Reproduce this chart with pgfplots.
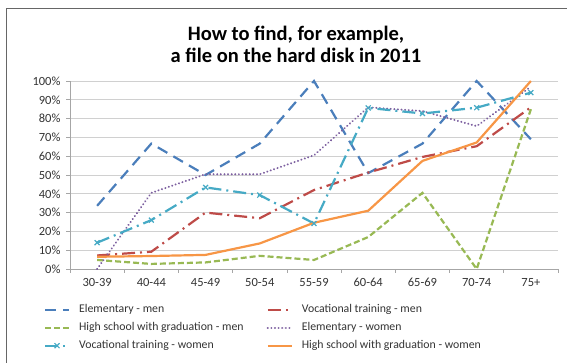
\documentclass[border=0pt]{standalone}
\usepackage{fontspec}
\setmainfont{Carlito}
\usepackage{pgfplots}
\pgfplotsset{compat=1.18}

\definecolor{cBlue}{HTML}{4A7EBB}
\definecolor{cRed}{HTML}{BE4B48}
\definecolor{cGreen}{HTML}{98B954}
\definecolor{cPurple}{HTML}{7D60A0}
\definecolor{cCyan}{HTML}{46AAC5}
\definecolor{cOrange}{HTML}{F79646}
\definecolor{gridgray}{HTML}{D0D0D0}
\definecolor{axisgray}{HTML}{A6A6A6}

\begin{document}
\begin{tikzpicture}
\useasboundingbox (0pt,0pt) rectangle (567pt,363pt);
% chart frame
\draw[black!60, line width=0.7pt] (6pt,0pt) -- (6pt,355pt) -- (567pt,355pt);
% title
\node[font=\bfseries\fontsize{20.5}{22}\selectfont, align=center] at (296pt,319pt)
  {How to find, for example,\\a file on the hard disk in 2011};

\begin{axis}[
  at={(70pt,94pt)}, anchor=south west,
  scale only axis, width=488pt, height=188pt,
  xmin=-0.5, xmax=8.5, ymin=0, ymax=100,
  axis x line*=bottom, axis y line*=left,
  axis line style={axisgray, line width=0.6pt, -},
  xtick={-0.5,0.5,1.5,2.5,3.5,4.5,5.5,6.5,7.5,8.5},
  x tick label as interval,
  xticklabels={30-39,40-44,45-49,50-54,55-59,60-64,65-69,70-74,75+},
  ytick={0,10,...,100},
  yticklabel={\pgfmathprintnumber{\tick}\%},
  tick align=outside, major tick length=4pt,
  tick style={axisgray, line width=0.6pt},
  ymajorgrids, grid style={gridgray, line width=0.8pt},
  ticklabel style={font=\fontsize{12.5}{14}\selectfont, text=black!80},
  /pgf/number format/assume math mode=true,
  xticklabel style={yshift=-2pt},
  yticklabel style={xshift=-2pt},
  clip=false,
  every axis plot/.append style={line width=2.2pt},
  legend columns=2,
  legend cell align=left,
  legend style={draw=none, fill=none, at={(-0.06,-0.17)}, anchor=north west,
    font=\fontsize{11.8}{13}\selectfont, text=black!80,
    nodes={inner sep=1pt, text height=8.5pt, text depth=2.5pt},
    row sep=5pt,
    /tikz/every odd column/.append style={column sep=8pt},
    /tikz/every even column/.append style={column sep=22pt}},
  legend image code/.code={%
    \draw[mark repeat=2,mark phase=2,#1] plot coordinates {(0pt,0pt) (12pt,0pt) (24pt,0pt)};},
]
% Elementary - men
\addplot[cBlue, dash pattern=on 11pt off 7pt] coordinates {
  (0,33.6) (1,66.7) (2,50) (3,66.7) (4,100) (5,51) (6,66.7) (7,100) (8,69)};
\addlegendentry{Elementary - men}
% Vocational training - men
\addplot[cRed, dash pattern=on 13pt off 5pt on 2pt off 5pt] coordinates {
  (0,7.2) (1,9.2) (2,30) (3,27) (4,42) (5,51.3) (6,59.6) (7,65.3) (8,86)};
\addlegendentry{Vocational training - men}
% High school with graduation - men
\addplot[cGreen, dash pattern=on 6pt off 3pt] coordinates {
  (0,4.8) (1,2.7) (2,3.5) (3,7) (4,4.8) (5,17) (6,40.5) (7,0) (8,85)};
\addlegendentry{High school with graduation - men}
% Elementary - women
\addplot[cPurple, line cap=round, dash pattern=on 0.01pt off 3.6pt] coordinates {
  (0,0) (1,40.5) (2,50.4) (3,50.4) (4,60.5) (5,86) (6,84) (7,76) (8,97)};
\addlegendentry{Elementary - women}
% Vocational training - women
\addplot[cCyan, dash pattern=on 13pt off 5pt on 2pt off 5pt,
  mark=x, mark size=3.5pt, mark options={solid, line width=1.2pt}] coordinates {
  (0,14) (1,26) (2,43.4) (3,39.3) (4,24.2) (5,85.7) (6,82.7) (7,85.8) (8,93.8)};
\addlegendentry{Vocational training - women}
% High school with graduation - women
\addplot[cOrange] coordinates {
  (0,6.5) (1,6.9) (2,7.5) (3,13.6) (4,24.6) (5,31) (6,57.5) (7,67.3) (8,100)};
\addlegendentry{High school with graduation - women}
\end{axis}
\end{tikzpicture}
\end{document}
